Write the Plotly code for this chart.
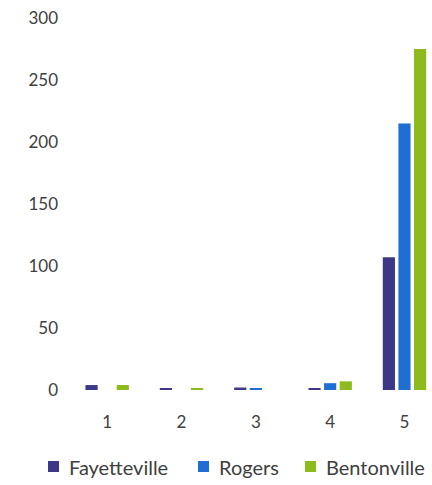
import plotly.graph_objects as go

categories = ["1", "2", "3", "4", "5"]
fayetteville = [4, 1, 2, 1.5, 107]
rogers = [0, 0, 1.5, 5.5, 215]
bentonville = [4, 1, 0, 7, 275]
y_ticks = [0, 50, 100, 150, 200, 250, 300]
series_names = ["Fayetteville", "Rogers", "Bentonville"]

colors = {"Fayetteville": "#3c3887", "Rogers": "#1f6fd3", "Bentonville": "#8dba1d"}
font = "Lato, Carlito, Calibri, sans-serif"
text_color = "#404040"

W, H = 432, 485
ML, MT, MB = 30, 18, 95
pw, ph = W - ML, H - MT - MB


def px_x(x):
    return (x - ML) / pw


def px_y(y):
    return (H - MB - y) / ph


fig = go.Figure()
for name, vals in zip(series_names, [fayetteville, rogers, bentonville]):
    fig.add_trace(go.Bar(x=[int(c) for c in categories], y=vals, name=name,
                         marker=dict(color=colors[name], line=dict(width=0))))

# legend row below the chart: square swatch followed by the series name
legend_swatch_left = [48, 198, 305]
shapes, annotations = [], []
for name, sx in zip(series_names, legend_swatch_left):
    shapes.append(dict(type="rect", xref="paper", yref="paper",
                       x0=px_x(sx), x1=px_x(sx + 11), y0=px_y(461), y1=px_y(472),
                       fillcolor=colors[name], line=dict(width=0)))
    annotations.append(dict(xref="paper", yref="paper", x=px_x(sx + 19), y=px_y(467),
                            xanchor="left", yanchor="middle", text=name, showarrow=False,
                            font=dict(family=font, size=20, color=text_color)))

fig.update_layout(
    width=W, height=H,
    margin=dict(l=ML, r=0, t=MT, b=MB, autoexpand=False),
    paper_bgcolor="white", plot_bgcolor="white",
    barmode="group", bargap=0.37, bargroupgap=0.22,
    font=dict(family=font, size=17, color=text_color),
    showlegend=False,
    shapes=shapes, annotations=annotations,
)
fig.update_xaxes(domain=[px_x(70), 1], range=[0.5, 5.37], tickvals=[1, 2, 3, 4, 5],
                 ticktext=categories, showgrid=False, zeroline=False, showline=False,
                 ticks="", ticklabelstandoff=20, automargin=False)
fig.update_yaxes(anchor="free", position=px_x(58), range=[0, 300], tickvals=y_ticks,
                 showgrid=False, zeroline=False, showline=False, ticks="",
                 automargin=False)

fig.write_html("out.html")
